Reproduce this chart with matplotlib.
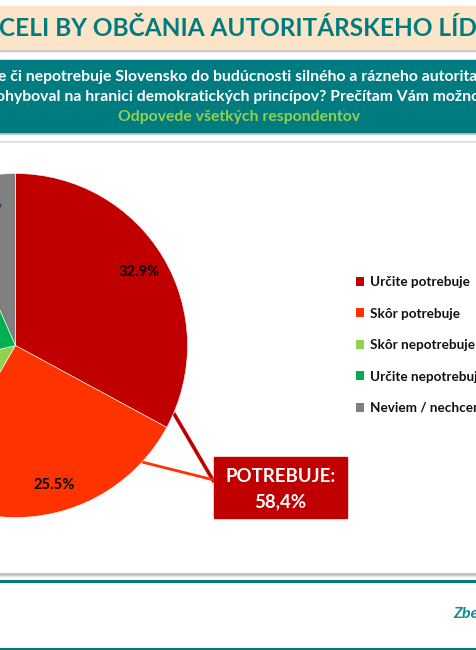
import matplotlib
matplotlib.use('Agg')
import numpy as np
import matplotlib.pyplot as plt
from matplotlib.patches import Rectangle

# ---------------- data ----------------
categories = ['Určite potrebuje', 'Skôr potrebuje', 'Skôr nepotrebuje',
              'Určite nepotrebuje', 'Neviem / nechcem odpovedať']
values = [32.9, 25.5, 12.9, 22.1, 6.6]
colors = ['#C00000', '#FF3300', '#92D050', '#00B050', '#808080']
title_text = 'CELI BY OBČANIA AUTORITÁRSKEHO LÍDR'
question_lines = ['e či nepotrebuje Slovensko do budúcnosti silného a rázneho autorita',
                  'ohyboval na hranici demokratických princípov? Prečítam Vám možno']
base_text = 'Odpovede všetkých respondentov'
summary_label = 'POTREBUJE:'
footer_text = 'Zber údajov'

TEAL = '#007B80'
W, H = 476, 650
FONT = ['Lato', 'DejaVu Sans']
plt.rcParams['font.family'] = FONT

fig = plt.figure(figsize=(W / 100, H / 100), dpi=100)
ax = fig.add_axes([0, 0, 1, 1])


def Y(y):
    return H - y


# ---------------- background bands ----------------
ax.add_patch(Rectangle((0, Y(51)), W, 3, color='#C8C8C8', zorder=1))
ax.add_patch(Rectangle((0, Y(49)), W, 43, color='#FBE4C8', zorder=2))
ax.text(-1, Y(29), title_text, ha='left', va='center', color=TEAL,
        fontsize=17.6, fontweight='bold', zorder=3)

ax.add_patch(Rectangle((0, Y(134)), W, 3, color='#C8C8C8', zorder=1))
ax.add_patch(Rectangle((0, Y(132)), W, 72, color=TEAL, zorder=2))
ax.text(W / 2, Y(77), question_lines[0], ha='center', va='center', color='white',
        fontsize=11.3, fontweight='bold', zorder=3)
ax.text(W / 2, Y(97), question_lines[1], ha='center', va='center', color='white',
        fontsize=11.3, fontweight='bold', zorder=3)
ax.text(W / 2 + 1, Y(117), base_text, ha='center', va='center', color='#92D050',
        fontsize=11.3, fontweight='bold', zorder=3)

ax.plot([0, W], [Y(142), Y(142)], color='#E3E3E3', lw=1.5, zorder=1)
ax.plot([0, W], [Y(573.5), Y(573.5)], color='#C0C0C0', lw=2.0, zorder=1)
ax.plot([0, W], [Y(575.5), Y(575.5)], color='#E6E6E6', lw=1.0, zorder=1)
ax.plot([0, W], [Y(581), Y(581)], color=TEAL, lw=2.2, zorder=1)
ax.plot([0, W], [Y(648.5), Y(648.5)], color=TEAL, lw=2.2, zorder=1)
ax.text(453, Y(614), footer_text, ha='left', va='center', color='#0E8A96',
        fontsize=11.5, fontweight='bold', fontstyle='italic', zorder=3)

# ---------------- pie ----------------
cx, cy, R = 15.5, Y(345.5), 172
wedges, texts, autotexts = ax.pie(
    values, colors=colors, startangle=90, counterclock=False,
    center=(cx, cy), radius=R, autopct='%.1f%%', pctdistance=0.84,
    wedgeprops=dict(edgecolor='white', linewidth=0.4),
    textprops=dict(fontsize=10.6, fontweight='bold', color='black'))
for i, t in enumerate(autotexts):
    if i in (2, 3):
        t.set_visible(False)
autotexts[4].set_color('#1F3864')
for w in wedges:
    w.set_zorder(4)
for t in autotexts:
    t.set_zorder(5)

# ---------------- callout ----------------
def edge_point(angle_cw_deg, r):
    a = np.deg2rad(angle_cw_deg)
    return cx + r * np.sin(a), cy + r * np.cos(a)

cum = np.cumsum([0] + values) * 3.6
p_red = edge_point(cum[1] - 5.3, R)
p_org = edge_point(cum[1] + 14.2, R)
box_x0, box_x1, box_y0, box_y1 = 214, 347, 457, 518
tip = (box_x0, Y(482))
ax.plot([p_red[0], tip[0]], [p_red[1], tip[1]], color='#C00000', lw=2.6,
        solid_capstyle='butt', zorder=3)
ax.plot([p_org[0], tip[0]], [p_org[1], tip[1] + 2], color='#FF3300', lw=2.0,
        solid_capstyle='butt', zorder=3)
ax.add_patch(Rectangle((box_x0, Y(box_y1)), box_x1 - box_x0, box_y1 - box_y0,
                       color='#C00000', zorder=6))
total_yes = f"{values[0] + values[1]:.1f}%".replace('.', ',')
bx = (box_x0 + box_x1) / 2
ax.text(bx, Y(476), summary_label, ha='center', va='center', color='white',
        fontsize=13.4, fontweight='bold', zorder=7)
ax.text(bx, Y(502), total_yes, ha='center', va='center', color='white',
        fontsize=13.4, fontweight='bold', zorder=7)

# ---------------- legend ----------------
leg = ax.legend(wedges, categories, loc='upper left',
                bbox_to_anchor=(356, Y(276)), bbox_transform=ax.transData,
                frameon=False, borderpad=0, borderaxespad=0,
                handlelength=0.62, handleheight=0.62, handletextpad=0.45,
                labelspacing=1.45, prop=dict(family=FONT, size=9.7, weight='bold'))
for t in leg.get_texts():
    t.set_color('#111111')
for h in leg.legend_handles:
    h.set_edgecolor('none')

ax.set_xlim(0, W)
ax.set_ylim(0, H)
ax.set_aspect('auto')
ax.axis('off')

fig.savefig('out.png', dpi=100)
